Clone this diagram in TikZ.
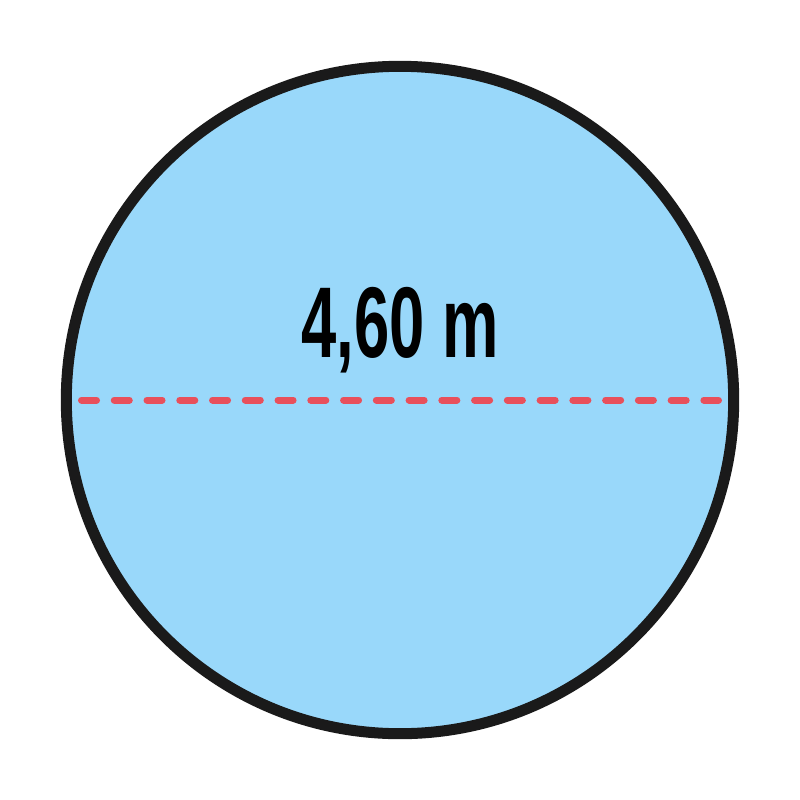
\documentclass[tikz,border=0pt]{standalone}
\usepackage{fontspec}
\setmainfont{Liberation Sans}
\definecolor{poolblue}{HTML}{99D8FA}
\definecolor{rimblack}{HTML}{1A1A1A}
\definecolor{dashred}{HTML}{E8505B}
\tikzset{
  pool/.style={draw=rimblack, fill=poolblue, line width=0.11cm},
  diam/.style={draw=dashred, line width=0.07cm, line cap=round, dash pattern=on 0.15cm off 0.1774cm},
  label/.style={font=\bfseries\fontsize{28.6}{30}\selectfont, text=black, inner sep=0pt, xscale=0.63}
}
\begin{document}
\begin{tikzpicture}[x=0.01cm, y=-0.01cm]
\useasboundingbox (0,0) rectangle (800,800);
\fill[white] (0,0) rectangle (800,800);
\node[circle, pool, minimum size=6.67cm, inner sep=0pt] (c) at (400,400) {};
\coordinate (dl) at (81.5,400);
\coordinate (dr) at (718.5,400);
\draw[diam] (dl) -- (dr);
\node[label, anchor=base] (t) at (400,357) {4,60 m};
\end{tikzpicture}
\end{document}
